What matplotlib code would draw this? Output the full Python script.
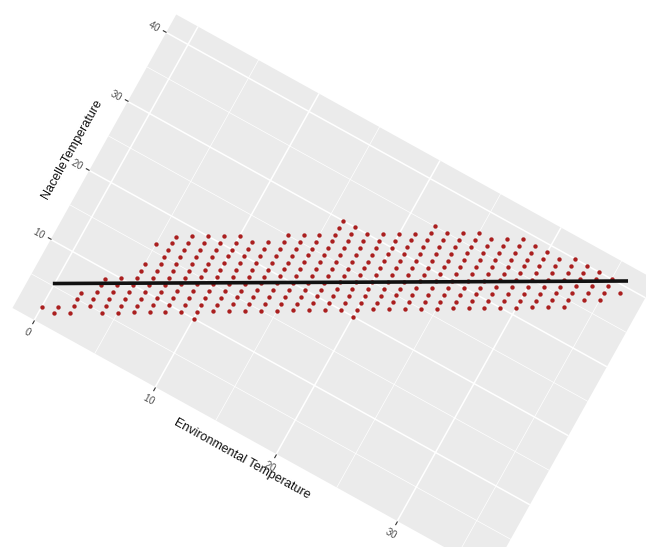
import matplotlib
matplotlib.use("Agg")
import matplotlib.pyplot as plt
import numpy as np
from matplotlib.transforms import Affine2D
import mpl_toolkits.axisartist.floating_axes as floating_axes
from mpl_toolkits.axisartist.grid_finder import FixedLocator

# rounded readings: for each environmental temperature, the lowest and
# highest nacelle temperature seen
env_temp = list(range(37))
nacelle_lo = [2, 2, 3, 5, 5, 6, 7, 8, 9, 10, 10, 12, 13, 14, 15, 16, 17, 18, 19,
              20, 20, 22, 23, 24, 25, 26, 27, 28, 29, 30, 31, 32, 33, 34, 36, 37, 39]
nacelle_hi = [2, 3, 6, 9, 10, 16, 18, 19, 20, 21, 22, 22, 23, 25, 26, 27, 30, 30, 30,
              31, 32, 33, 35, 35, 36, 37, 37, 38, 39, 39, 39, 39, 40, 40, 40, 40, 39]
# combinations inside those ranges that never occur
missing_env = [5, 5]
missing_nacelle = [14, 15]

# fitted line
fit_env = [0, 36]
fit_nacelle = [5.36, 40.68]

x_ticks = [0, 10, 20, 30]
y_ticks = [0, 10, 20, 30, 40]
x_minor = [5, 15, 25, 35]
y_minor = [5, 15, 25, 35]
x_lim = (-1.8, 37.8)
y_lim = (0.07, 42.6)

plt.rcParams['font.family'] = ['Liberation Sans', 'DejaVu Sans']

W, H = 646, 547
fig = plt.figure(figsize=(W / 100, H / 100), dpi=100)

# the whole plot lies tilted on the page: data units -> page pixels
tr = Affine2D(np.array([[12.1, 3.85, 34.0],
                        [-6.7, 6.9, H - 320.5],
                        [0.0, 0.0, 1.0]]))

grid_helper = floating_axes.GridHelperCurveLinear(
    tr, extremes=(x_lim[0], x_lim[1], y_lim[0], y_lim[1]),
    grid_locator1=FixedLocator(x_ticks),
    grid_locator2=FixedLocator(y_ticks))

ax = fig.add_axes([0, 0, 1, 1], axes_class=floating_axes.FloatingAxes,
                  grid_helper=grid_helper)
ax.set_xlim(0, W)
ax.set_ylim(0, H)
ax.patch.set_facecolor('#EBEBEB')
ax.patch.set_edgecolor('none')
ax.grid(True, color='white', linewidth=1.1)

aux = ax.get_aux_axes(tr)

# minor grid
for xm in x_minor:
    aux.plot([xm, xm], y_lim, color='white', linewidth=0.5, zorder=1)
for ym in y_minor:
    aux.plot(x_lim, [ym, ym], color='white', linewidth=0.5, zorder=1)

skip = set(zip(missing_env, missing_nacelle))
pts_x = []
pts_y = []
for x, lo, hi in zip(env_temp, nacelle_lo, nacelle_hi):
    for y in range(lo, hi + 1):
        if (x, y) not in skip:
            pts_x.append(x)
            pts_y.append(y)

aux.scatter(pts_x, pts_y, s=10, color='#AA1F1F', linewidths=0, zorder=3)
aux.plot(fit_env, fit_nacelle, color='#111111', linewidth=2.6, zorder=4)

for side in ['top', 'right']:
    ax.axis[side].set_visible(False)
for side in ['bottom', 'left']:
    axis = ax.axis[side]
    axis.line.set_visible(False)
    axis.major_ticks.set_tick_out(True)
    axis.major_ticks.set_ticksize(3)
    axis.major_ticks.set_color('#333333')
    axis.major_ticklabels.set_fontsize(7)
    axis.major_ticklabels.set_color('#4D4D4D')
    axis.major_ticklabels.set_pad(2)
    axis.label.set_fontsize(9)
    axis.label.set_color('#111111')

ax.axis['bottom'].label.set_text('Environmental Temperature')
ax.axis['bottom'].label.set_pad(-3)
ax.axis['left'].label.set_text('NacelleTemperature')
ax.axis['left'].label.set_pad(0)

fig.savefig('out.png', dpi=100, facecolor='white')
